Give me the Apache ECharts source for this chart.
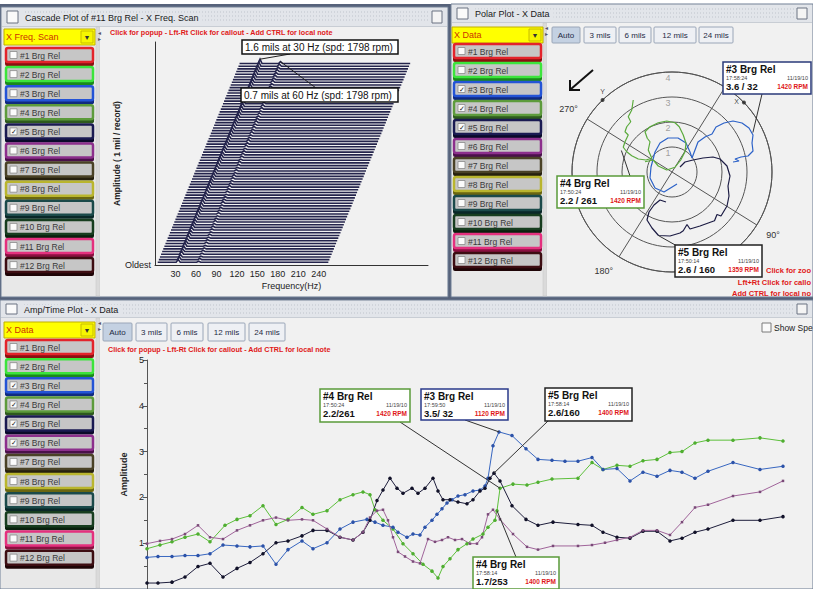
<!DOCTYPE html>
<html><head><meta charset="utf-8">
<script src="https://cdn.jsdelivr.net/npm/echarts@6/dist/echarts.min.js"></script>
<style>html,body{margin:0;padding:0;background:#fff;overflow:hidden}#c{width:813px;height:589px}</style>
</head><body><div id="c"></div>
<script>
// ---------------- DATA ----------------
const channels = ['#1 Brg Rel','#2 Brg Rel','#3 Brg Rel','#4 Brg Rel','#5 Brg Rel','#6 Brg Rel','#7 Brg Rel','#8 Brg Rel','#9 Brg Rel','#10 Brg Rel','#11 Brg Rel','#12 Brg Rel'];
const checkedCascade = ['#5 Brg Rel'];
const checkedPolar = ['#3 Brg Rel','#4 Brg Rel','#5 Brg Rel'];
const checkedAmpTime = ['#3 Brg Rel','#4 Brg Rel','#5 Brg Rel','#6 Brg Rel'];
const rangeButtons = ['Auto','3 mils','6 mils','12 mils','24 mils'];

// Cascade: frequency ticks, spectrum bins and per-record amplitudes (mils) at 1x (30 Hz) and 2x (60 Hz)
const freqTicks = [30,60,90,120,150,180,210,240];
const spectrumFreqs = [0,27,30,33,57,60,63,250];
const amp1x = [1.0,1.1,0.9,1.2,1.0,1.1,1.3,1.0,0.9,1.1,
 1.2,1.0,1.1,1.3,1.2,1.0,1.1,1.2,1.4,1.1,
 1.0,1.2,1.3,1.1,1.2,1.0,1.1,1.3,1.2,1.4,
 1.1,1.2,1.3,1.2,1.0,1.1,1.2,1.4,1.3,1.2,
 1.1,1.3,1.2,1.4,1.3,1.2,1.1,1.3,1.4,1.2,
 1.3,1.5,1.2,1.3,1.4,1.2,1.3,1.4,1.5,1.3,
 1.2,1.4,1.5,1.3,1.4,1.5,1.4,1.3,1.5,1.4,
 1.6,1.5,1.4,1.5,1.6];
const amp2x = [0.4,0.5,0.3,0.4,0.5,0.4,0.3,0.5,0.4,0.4,
 0.5,0.3,0.4,0.5,0.4,0.6,0.4,0.3,0.5,0.4,
 0.5,0.4,0.6,0.5,0.4,0.3,0.5,0.4,0.6,0.5,
 0.4,0.5,0.6,0.4,0.5,0.3,0.5,0.6,0.4,0.5,
 0.6,0.5,0.4,0.6,0.5,0.7,0.5,0.4,0.6,0.5,
 0.6,0.5,0.7,0.6,0.5,0.6,0.4,0.6,0.7,0.5,
 0.6,0.7,0.5,0.6,0.7,0.6,0.5,0.7,0.6,0.7,
 0.6,0.7,0.6,0.8,0.7];
const cascadeSpeed = 1798;

// Polar: ring labels, visible angle labels, probe markers, orbit traces as vector components (mils, horizontal / vertical)
const ringLabels = [1,2,3,4];
const angleLabels = [90,180,270];
const probes = [{name:'X', amp:4, phase:14},{name:'Y', amp:4, phase:284}];
const orbit3 = [[0.2,-0.48],[-0.32,-0.8],[-0.68,-0.64],[-0.88,-0.24],[-0.84,0.2],[-0.68,0.8],[-0.48,1.16],[-0.16,1.36],[0.24,1.36],[0.56,1.16],[0.72,0.8],[0.8,0.56],[0.92,0.88],[1.04,1.2],[1.32,1.4],[1.6,1.52],[1.76,1.8],[2.08,1.96],[2.44,2.04],[2.8,1.96],[3.08,1.76],[3.24,1.48],[3.2,1.16],[3.24,0.84],[3.04,0.64],[2.76,0.6],[2.52,0.52],[2.68,0.44],[2.44,0.4]];
const orbit4 = [[-1.55,2.88],[-1.61,2.48],[-1.75,2.21],[-1.65,2.01],[-1.81,1.81],[-1.88,1.61],[-1.75,1.48],[-1.88,1.21],[-1.95,0.99],[-1.81,0.81],[-1.61,0.65],[-1.35,0.52],[-1.04,0.48],[-0.81,0.55],[-0.95,0.88],[-0.88,1.21],[-0.99,1.35],[-1.08,1.61],[-0.88,1.81],[-0.55,1.97],[-0.21,2.04],[0.12,1.97],[0.29,1.81],[0.45,1.48],[0.56,1.15],[0.52,0.81],[0.35,0.48],[0.12,0.19],[-0.21,0.08],[-0.55,0.24],[-0.75,0.48],[-1.08,0.41]];
const orbit5 = [[0.32,0.2],[0.52,0.4],[0.84,0.48],[1.24,0.56],[1.64,0.6],[1.92,0.52],[2.2,0.24],[2.32,-0.16],[2.24,-0.56],[2.28,-0.96],[2.2,-1.36],[1.96,-1.76],[1.8,-1.7],[1.7,-1.95],[1.56,-2.0],[1.12,-2.16],[0.72,-2.28],[0.6,-2.1],[0.45,-2.35],[0.32,-2.44],[-0.08,-2.56],[-0.54,-2.54],[-0.8,-2.24],[-1.0,-1.92],[-0.92,-1.6],[-0.72,-1.32],[-0.48,-1.12],[-0.24,-1.2]];

// Amp/Time: amplitude ticks and series [time, amplitude]
const ampTicks = [1,2,3,4,5];
const ampTime3 = [[0,0.69],[11,0.71],[25,0.71],[38,0.73],[51,0.73],[63,0.77],[76,0.96],[90,0.94],[103,0.92],[116,0.94],[129,0.54],[141,0.86],[155,1.05],[166,0.88],[180,1.01],[193,1.31],[206,1.46],[220,1.52],[228,1.46],[236,1.39],[246,1.35],[251,1.24],[260,1.13],[266,1.2],[273,1.18],[278,1.35],[285,1.5],[290,1.63],[295,1.75],[300,1.88],[305,1.95],[311,2.03],[318,2.06],[326,2.14],[333,2.16],[338,2.25],[341,2.42],[346,3.13],[352,3.43],[365,3.35],[379,3.06],[391,2.83],[405,2.81],[418,2.79],[431,2.79],[445,2.87],[456,2.61],[470,2.63],[483,2.36],[496,2.55],[510,2.46],[523,2.59],[535,2.55],[548,2.42],[561,2.57],[586,2.76],[613,2.61],[636,2.68]];
const ampTime4 = [[0,0.88],[13,0.96],[25,1.03],[38,1.13],[51,1.2],[63,1.03],[78,1.39],[90,1.52],[103,1.6],[116,1.82],[129,1.41],[141,1.52],[155,1.78],[166,1.63],[180,1.71],[193,1.95],[206,2.06],[216,2.12],[223,2.06],[228,1.73],[236,1.5],[246,1.31],[256,0.99],[266,0.77],[276,0.54],[285,0.39],[291,0.24],[296,0.49],[303,0.66],[311,0.86],[320,0.99],[326,1.09],[336,1.2],[341,1.35],[348,1.5],[350,1.71],[353,2.2],[366,2.29],[380,2.27],[391,2.33],[405,2.4],[431,2.42],[445,2.76],[456,2.61],[470,2.7],[483,2.68],[496,2.8],[510,2.83],[523,2.98],[535,3.0],[548,3.19],[561,3.25],[586,3.25],[613,3.3],[636,3.23]];
const ampTime5 = [[0,0.13],[11,0.13],[25,0.15],[38,0.26],[51,0.49],[63,0.56],[76,0.26],[90,0.45],[103,0.58],[116,0.77],[129,1.01],[141,1.05],[155,1.16],[166,1.28],[180,1.28],[193,1.13],[206,1.07],[216,1.24],[223,1.5],[230,1.93],[236,2.16],[243,2.42],[250,2.2],[256,2.09],[265,2.2],[271,2.09],[278,2.2],[286,2.42],[291,2.14],[296,1.95],[303,1.95],[311,1.9],[320,1.86],[326,1.95],[333,2.14],[338,2.2],[343,2.42],[347,2.53],[353,2.36],[365,1.82],[379,1.52],[391,1.39],[406,1.46],[431,1.41],[445,1.39],[456,1.24],[470,1.13],[483,1.11],[496,1.26],[510,1.26],[523,1.05],[535,1.11],[548,1.24],[561,1.31],[586,1.5],[613,1.5],[636,1.58]];
const ampTime6 = [[0,0.99],[13,1.05],[25,1.09],[38,1.2],[51,1.39],[63,1.13],[76,1.09],[90,1.28],[103,1.39],[116,1.5],[129,1.56],[141,1.5],[155,1.52],[166,1.5],[180,1.31],[193,1.13],[206,1.07],[216,1.24],[223,1.56],[230,1.71],[236,1.73],[241,1.5],[246,1.13],[251,0.81],[258,0.71],[266,0.6],[273,0.56],[281,1.09],[288,1.03],[295,1.07],[301,1.13],[308,1.07],[315,1.09],[323,0.99],[330,0.99],[335,1.13],[341,1.63],[346,1.73],[353,1.52],[366,1.2],[380,0.92],[391,0.86],[406,0.94],[431,0.94],[445,0.96],[458,1.01],[470,1.07],[483,1.13],[496,1.28],[510,1.28],[523,1.18],[535,1.46],[548,1.78],[561,1.84],[586,2.03],[613,2.12],[636,2.36]];

// Callout readings
const polarCallouts = [
  {ch:'#3 Brg Rel', time:'17:58:24', date:'11/19/10', amp:3.6, phase:32, rpm:'1420 RPM'},
  {ch:'#4 Brg Rel', time:'17:50:24', date:'11/19/10', amp:2.2, phase:261, rpm:'1420 RPM'},
  {ch:'#5 Brg Rel', time:'17:50:14', date:'11/19/10', amp:2.6, phase:160, rpm:'1359 RPM'}
];
const ampCallouts = [
  {ch:'#4 Brg Rel', time:'17:50:24', date:'11/19/10', reading:'2.2/261', rpm:'1420 RPM', at:[353,2.2]},
  {ch:'#3 Brg Rel', time:'17:59:50', date:'11/19/10', reading:'3.5/ 32', rpm:'1120 RPM', at:[352,3.43]},
  {ch:'#5 Brg Rel', time:'17:58:14', date:'11/19/10', reading:'2.6/160', rpm:'1400 RPM', at:[347,2.53]},
  {ch:'#4 Brg Rel', time:'17:58:14', date:'11/19/10', reading:'1.7/253', rpm:'1400 RPM', at:[350,1.71]}
];

// ---------------- STYLE / LAYOUT ----------------
const chColors = ['#e3242b','#3ce43c','#2454d6','#5d9b3c','#1a1a52','#8c2f8c','#4a4226','#b9b52e','#1b4a4a','#173d1f','#e4307e','#3d0d12'];
const chShade = ['#8a1010','#1a8a1a','#102a80','#2e5a1e','#0a0a2a','#4a104a','#26200e','#6a6610','#0a2828','#0a200e','#8a1040','#1e0406'];
const FONT = 'Arial, "Liberation Sans", sans-serif';
const ROT = 58; // polar 0° direction
const REC_SHIFT = 1.62, REC_OFFSET = 4;

const G = [];
function R(x,y,w,h,fill,stroke,lw,z,r){G.push({type:'rect',silent:true,z:(z===undefined?-10:z),shape:{x:x,y:y,width:w,height:h,r:r||0},style:{fill:fill||'none',stroke:stroke||'none',lineWidth:lw||0}});}
function T(x,y,s,size,color,opt){opt=opt||{};const st={text:s,font:(opt.bold?'bold ':'')+size+'px '+FONT,fill:color||'#222',align:opt.align||'left',verticalAlign:'middle',textAlign:opt.align||'left',textVerticalAlign:'middle'};if(opt.bg){st.backgroundColor=opt.bg;st.padding=[0,4,0,2];}G.push({type:'text',silent:true,z:(opt.z===undefined?-5:opt.z),x:x,y:y,style:st});}
function L(x1,y1,x2,y2,color,lw,z,dash){G.push({type:'line',silent:true,z:(z===undefined?-5:z),shape:{x1:x1,y1:y1,x2:x2,y2:y2},style:{stroke:color,lineWidth:lw||1,lineDash:dash||null}});}
function P(points,color,lw,z){G.push({type:'polyline',silent:true,z:z,shape:{points:points},style:{stroke:color,lineWidth:lw,fill:'none'}});}

function win(x,y,w,h,th,title){
  R(x,y,w,h,'#ececec','#6d7c94',1,-18);
  R(x+1,y+1,w-2,th,'#e2e5ea',null,0,-17);
  for(let k=0;k<3;k++) L(x+24,y+5+k*4,x+w-18,y+5+k*4,'#bfc4cc',1,-16,[1,2]);
  R(x+6,y+4,11,th-7,'#fafafa','#6a7282',1,-15);
  T(x+22,y+1+th/2,title,9,'#1a1a1a',{bg:'#e2e5ea',z:-14});
  R(x+w-16,y+4,10,th-7,'#f4f4f4','#6a7282',1,-15);
  L(x+1,y+th+1,x+w-1,y+th+1,'#aeb4be',1,-16);
}
function side(x,y,drop,itemY,step,checked){
  R(x,y,91,16,'#ffff00','#c0b000',1,-12);
  T(x+2,y+8,drop,9,'#cc3300',{z:-11});
  R(x+77,y+2,12,12,'#f6f600','#c8bc00',1,-11);
  T(x+83,y+8.5,'▼',7,'#333',{align:'center',z:-10});
  channels.forEach(function(c,i){
    const yy=itemY+i*step;
    R(x+1,yy+12,89,6,chShade[i],null,0,-12,2);
    R(x+2,yy,87,14,'#c6c6c6',chColors[i],2.5,-11,2);
    R(x+6,yy+3.5,7,7,'#fbfbfb','#8a8a8a',0.8,-10);
    if(checked.indexOf(c)>=0) T(x+9.5,yy+7,'✓',7,'#222',{align:'center',z:-9});
    T(x+16,yy+7.5,c,8.5,'#3a3a3a',{z:-9});
  });
}
function buttons(y,xs,h){
  rangeButtons.forEach(function(b,i){
    R(xs[i][0],y,xs[i][1]-xs[i][0],h,i===0?'#c4d1e2':'#eef0f4','#9aa6b8',1,-12,1);
    T((xs[i][0]+xs[i][1])/2,y+h/2,b,8,'#1e2a44',{align:'center',z:-11});
  });
}
function callout(x,y,w,h,border,c,reading){
  R(x,y,w,h,'#ffffff',border,1.5,100);
  T(x+3,y+7,c.ch,10,'#111',{bold:true,z:101});
  T(x+3,y+15.5,c.time,5.5,'#444',{z:101});
  T(x+w-3,y+15.5,c.date,5.5,'#444',{align:'right',z:101});
  T(x+3,y+24.5,reading,9.5,'#111',{bold:true,z:101});
  T(x+w-3,y+24.5,c.rpm,6.5,'#e01818',{bold:true,align:'right',z:101});
}

// Page chrome
R(0,0,813,589,'#ffffff',null,0,-20);
R(0,4,813,585,'#56627a',null,0,-19);
win(1,7,447,290,19,'Cascade Plot of #11 Brg Rel - X Freq. Scan');
win(451,4,362,293,18,'Polar Plot - X Data');
win(0,300,813,289,17,'Amp/Time Plot - X Data');
R(2,27,94,269,'#e8e8e8',null,0,-14); R(96,27,4,269,'#dadada','#c4c4c4',0.5,-14); R(100,27,347,269,'#f1f1f1',null,0,-14);
R(452,23,91,273,'#e8e8e8',null,0,-14); R(543,23,4,273,'#dadada','#c4c4c4',0.5,-14); R(547,23,265,273,'#f1f1f1',null,0,-14);
R(1,318,95,270,'#e8e8e8',null,0,-14); R(96,318,4,270,'#dadada','#c4c4c4',0.5,-14); R(100,318,712,270,'#f1f1f1',null,0,-14);
[[97,31],[544,26],[97,321]].forEach(function(p){T(p[0]+1,p[1]+2,'◂',6,'#556',{z:-12});T(p[0]+1,p[1]+8,'▸',6,'#556',{z:-12});});
side(4,29,'X Freq. Scan',48,19.1,checkedCascade);
side(452,27,'X Data',44,19.0,checkedPolar);
side(4,322,'X Data',340,19.15,checkedAmpTime);
buttons(27,[[552,580],[584,616],[619,651],[654,696],[699,733]],16);
buttons(323,[[103,132],[136,167],[171,203],[208,245],[249,285]],18);
const NOTE='Click for popup - Lft-Rt Click for callout - Add CTRL for local note';
T(110,32,NOTE,7.2,'#e01818',{bold:true});
T(108,349,NOTE,7.2,'#e01818',{bold:true});
// notes cut by the window edge, as visible
T(811,270,'Click for zoo',7.5,'#e01818',{bold:true,z:50,align:'right'});
T(811,282,'Lft+Rt Click for callo',7.5,'#e01818',{bold:true,z:50,align:'right'});
T(811,293,'Add CTRL for local no',7.5,'#e01818',{bold:true,z:50,align:'right'});
R(762,323,9,9,'#fafafa','#7a7a7a',1,-10);
T(774,328,'Show Spe',8.5,'#222');
L(593,70,571,89,'#111',2,20);
P([[570,80],[570,90],[580,90]],'#111',2,20);

const lastRec = amp1x.length-1;
R(242,40,156,14,'#ffffff','#111',1.5,100);
T(245,47,amp1x[lastRec]+' mils at 30 Hz (spd: '+cascadeSpeed+' rpm)',10,'#111',{z:101});
R(241,88,157,14,'#ffffff','#111',1.5,100);
T(244,95,amp2x[lastRec]+' mils at 60 Hz (spd: '+cascadeSpeed+' rpm)',10,'#111',{z:101});

const polarBoxes=[[723,62,88,32,'#2a3a7a'],[557,176,87,32,'#5a9a3a'],[675,245,87,32,'#222']];
polarCallouts.forEach(function(c,i){const b=polarBoxes[i];callout(b[0],b[1],b[2],b[3],b[4],c,c.amp+' / '+c.phase);});
const ampBoxes=[[320,389,90,33,'#5a9a3a'],[421,389,87,31,'#2a3a8a'],[545,388,87,33,'#222'],[473,557,86,32,'#5a9a3a']];
ampCallouts.forEach(function(c,i){const b=ampBoxes[i];callout(b[0],b[1],b[2],b[3],b[4],c,c.reading);});

// ---------------- CHART ----------------
function toPolar(p){const r=Math.hypot(p[0],p[1]);let th=ROT-Math.atan2(p[1],p[0])*180/Math.PI;th=((th%360)+360)%360;return [r,th];}
const records = amp1x.map(function(a1,r){
  const amps=[0,0,a1,0,0,amp2x[r],0,0];
  return {coords: spectrumFreqs.map(function(f,k){return [REC_OFFSET+r*REC_SHIFT+f, r+1+amps[k]];})};
});
const labelUp = ((ROT-90)%360+360)%360;

const chart = echarts.init(document.getElementById('c'), null, {renderer:'svg', width:813, height:589});
const option = {
  animation:false,
  backgroundColor:'#ffffff',
  textStyle:{fontFamily:FONT},
  grid:[
    {left:155, top:42, width:273, height:223, show:false},
    {left:147, top:360, width:666, height:233, show:false}
  ],
  xAxis:[
    {gridIndex:0, type:'value', min:0, max:400, interval:30,
     axisLine:{lineStyle:{color:'#333',width:1}}, axisTick:{show:false}, splitLine:{show:false},
     axisLabel:{formatter:function(v){return freqTicks.indexOf(v)>=0?String(v):'';}, fontSize:9, color:'#222', margin:4, showMaxLabel:false},
     name:'Frequency(Hz)', nameLocation:'middle', nameGap:16, nameTextStyle:{fontSize:9,color:'#222'}},
    {gridIndex:1, type:'value', min:0, max:666, show:false}
  ],
  yAxis:[
    {gridIndex:0, type:'value', min:0, max:83, interval:83,
     axisLine:{show:true,lineStyle:{color:'#333',width:1}}, axisTick:{show:false}, splitLine:{show:false},
     axisLabel:{formatter:function(v){return v===0?'Oldest':'';}, fontSize:9, color:'#222', margin:4},
     name:'Amplitude ( 1 mil / record)', nameLocation:'middle', nameGap:31, nameTextStyle:{fontSize:8.5,fontWeight:'bold',color:'#222'}},
    {gridIndex:1, type:'value', min:0, max:5, interval:1,
     axisLine:{show:true,lineStyle:{color:'#555',width:1}}, axisTick:{show:true,length:4,lineStyle:{color:'#555'}},
     minorTick:{show:true,splitNumber:2,length:3,lineStyle:{color:'#555'}}, splitLine:{show:false},
     axisLabel:{formatter:function(v){return ampTicks.indexOf(v)>=0?String(v):'';}, fontSize:9, color:'#222', margin:3},
     name:'Amplitude', nameLocation:'middle', nameGap:12, nameTextStyle:{fontSize:9,fontWeight:'bold',color:'#222'}}
  ],
  polar:{center:[672,172], radius:100},
  angleAxis:{type:'value', min:0, max:360, interval:90, startAngle:ROT, clockwise:true,
    axisLine:{lineStyle:{color:'#555',width:1}}, axisTick:{show:false},
    splitLine:{show:true,lineStyle:{color:'#555',width:1}},
    axisLabel:{formatter:function(v){return angleLabels.indexOf(v)>=0?v+'°':'';}, margin:11, fontSize:9, color:'#333'}},
  radiusAxis:{min:0, max:4, interval:1, axisLine:{show:false}, axisTick:{show:false}, axisLabel:{show:false},
    splitLine:{show:true,lineStyle:{color:'#555',width:1}}},
  series:[
    {type:'lines', coordinateSystem:'cartesian2d', xAxisIndex:0, yAxisIndex:0, polyline:true, silent:true,
     lineStyle:{color:'#24244c', width:1.6, opacity:1}, data:records, z:3},
    {type:'line', coordinateSystem:'polar', polarIndex:0, data:orbit3.map(toPolar), showSymbol:false, lineStyle:{color:'#2c62c8',width:1.2}, z:4},
    {type:'line', coordinateSystem:'polar', polarIndex:0, data:orbit4.map(toPolar), showSymbol:false, lineStyle:{color:'#5aaa3c',width:1.2}, z:4},
    {type:'line', coordinateSystem:'polar', polarIndex:0, data:orbit5.map(toPolar), showSymbol:false, lineStyle:{color:'#1c1c44',width:1.2}, z:4},
    {type:'scatter', coordinateSystem:'polar', polarIndex:0, data:ringLabels.map(function(r){return [r,labelUp];}), symbolSize:1,
     itemStyle:{color:'rgba(0,0,0,0)'}, label:{show:true, formatter:function(p){return String(p.value[0]);}, position:'bottom', distance:1, offset:[-4,0], color:'#8a8a8a', fontSize:9}, z:3},
    {type:'scatter', coordinateSystem:'polar', polarIndex:0,
     data:probes.map(function(p){return {name:p.name, value:[p.amp,p.phase], label:(p.name==='X'?{position:'left',distance:3,offset:[0,-1]}:{position:'top',distance:3})};}),
     symbolSize:4, itemStyle:{color:'#222'}, label:{show:true, formatter:'{b}', color:'#111', fontSize:7}, z:5},
    {type:'line', xAxisIndex:1, yAxisIndex:1, data:ampTime4, symbol:'circle', symbolSize:3.5, showAllSymbol:true, lineStyle:{color:'#5cbf3a',width:1}, itemStyle:{color:'#4fae30'}, z:4},
    {type:'line', xAxisIndex:1, yAxisIndex:1, data:ampTime3, symbol:'circle', symbolSize:3.5, showAllSymbol:true, lineStyle:{color:'#3766c0',width:1}, itemStyle:{color:'#2c52a8'}, z:4},
    {type:'line', xAxisIndex:1, yAxisIndex:1, data:ampTime5, symbol:'circle', symbolSize:3.5, showAllSymbol:true, lineStyle:{color:'#1e1e3c',width:1}, itemStyle:{color:'#111128'}, z:4},
    {type:'line', xAxisIndex:1, yAxisIndex:1, data:ampTime6, symbol:'rect', symbolSize:2.5, showAllSymbol:true, lineStyle:{color:'#a0649a',width:1}, itemStyle:{color:'#7a4a78'}, z:4}
  ],
  graphic:{elements:G.slice()}
};
chart.setOption(option);

const c0 = chart.convertToPixel({gridIndex:0}, [REC_OFFSET+lastRec*REC_SHIFT+30, lastRec+1+amp1x[lastRec]]);
const c1 = chart.convertToPixel({gridIndex:0}, [REC_OFFSET+lastRec*REC_SHIFT+60, lastRec+1+amp2x[lastRec]]);
L(290,54,c0[0],c0[1],'#222',1,99);
L(316,88,c1[0],c1[1],'#222',1,99);
const polarAnchors=[[762,94],[630,176],[677,246]];
polarCallouts.forEach(function(c,i){const p=chart.convertToPixel({seriesIndex:1}, [c.amp,c.phase]);if(p)L(polarAnchors[i][0],polarAnchors[i][1],p[0],p[1],'#333',1,99);});
const ampAnchors=[[400,422],[465,420],[548,421],[516,557]];
ampCallouts.forEach(function(c,i){const p=chart.convertToPixel({gridIndex:1}, c.at);if(p)L(ampAnchors[i][0],ampAnchors[i][1],p[0],p[1],'#333',1,99);});
chart.setOption({graphic:{elements:G}});
</script></body></html>
